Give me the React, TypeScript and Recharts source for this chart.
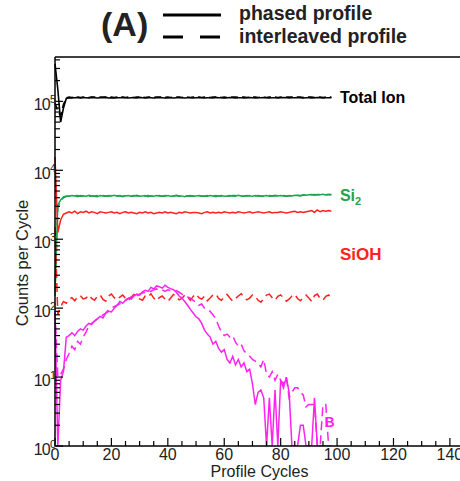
import { LineChart, Line, XAxis, YAxis, ReferenceLine, ReferenceDot } from "recharts";

// counts per cycle, one value per profile cycle (0..98); zero counts drawn at 1
const totalSolid = [
	350000, 150000, 50000, 80000, 110000, 113000, 112000, 113000, 114000, 112000,
	113000, 113000, 112000, 114000, 113000, 112000, 113000, 113000, 114000, 112000,
	113000, 112000, 113000, 113000, 114000, 113000, 112000, 113000, 113000, 112000,
	114000, 113000, 112000, 113000, 113000, 112000, 113000, 114000, 113000, 112000,
	113000, 113000, 112000, 113000, 114000, 113000, 112000, 113000, 113000, 112000,
	113000, 114000, 113000, 112000, 113000, 113000, 112000, 114000, 113000, 113000,
	112000, 113000, 114000, 113000, 112000, 113000, 113000, 112000, 113000, 114000,
	113000, 112000, 113000, 113000, 114000, 113000, 112000, 113000, 113000, 112000,
	113000, 114000, 113000, 112000, 113000, 113000, 114000, 113000, 112000, 113000,
	113000, 112000, 113000, 114000, 113000, 112000, 113000, 113000, 113000,
];
const totalDashed = [
	95000, 72000, 62000, 90000, 112000, 115000, 114000, 115000, 115000, 114000,
	115000, 115000, 114000, 115000, 115000, 114000, 115000, 115000, 115000, 114000,
	115000, 114000, 115000, 115000, 115000, 114000, 115000, 115000, 114000, 115000,
	115000, 115000, 114000, 115000, 115000, 114000, 115000, 115000, 115000, 114000,
	115000, 114000, 115000, 115000, 115000, 114000, 115000, 115000, 114000, 115000,
	115000, 115000, 114000, 115000, 115000, 114000, 115000, 115000, 115000, 114000,
	115000, 114000, 115000, 115000, 115000, 114000, 115000, 115000, 114000, 115000,
	115000, 115000, 114000, 115000, 115000, 114000, 115000, 115000, 115000, 114000,
	115000, 114000, 115000, 115000, 115000, 114000, 115000, 115000, 114000, 115000,
	115000, 115000, 114000, 115000, 115000, 114000, 115000, 115000, 115000,
];
const si2Solid = [
	180, 3150, 3700, 4100, 4250, 4200, 4300, 4250, 4150, 4300,
	4250, 4200, 4350, 4250, 4200, 4150, 4300, 4250, 4200, 4300,
	4250, 4350, 4200, 4250, 4150, 4250, 4300, 4200, 4250, 4350,
	4200, 4250, 4300, 4150, 4250, 4200, 4300, 4250, 4200, 4250,
	4300, 4200, 4250, 4350, 4200, 4250, 4150, 4250, 4300, 4200,
	4250, 4300, 4200, 4250, 4200, 4300, 4250, 4150, 4250, 4300,
	4200, 4250, 4300, 4250, 4200, 4350, 4250, 4200, 4300, 4250,
	4200, 4300, 4250, 4200, 4250, 4300, 4200, 4250, 4350, 4250,
	4300, 4250, 4200, 4300, 4250, 4350, 4300, 4250, 4400, 4350,
	4400, 4450, 4350, 4450, 4400, 4500, 4400, 4450, 4400,
];
const si2Dashed = [
	150, 2900, 3600, 4000, 4150, 4250, 4200, 4250, 4300, 4200,
	4250, 4300, 4200, 4250, 4250, 4300, 4200, 4300, 4250, 4200,
	4300, 4250, 4250, 4300, 4200, 4300, 4250, 4200, 4300, 4250,
	4250, 4200, 4250, 4300, 4200, 4250, 4250, 4300, 4200, 4300,
	4250, 4250, 4200, 4300, 4250, 4200, 4300, 4250, 4200, 4250,
	4300, 4250, 4250, 4200, 4300, 4250, 4200, 4300, 4250, 4250,
	4250, 4200, 4250, 4300, 4300, 4250, 4200, 4250, 4250, 4300,
	4250, 4250, 4300, 4250, 4200, 4250, 4300, 4250, 4250, 4300,
	4250, 4300, 4250, 4250, 4300, 4300, 4350, 4300, 4350, 4400,
	4400, 4400, 4450, 4400, 4450, 4450, 4400, 4450, 4450,
];
const siohSolid = [
	15600, 1250, 1900, 2300, 2400, 2500, 2400, 2550, 2350, 2500,
	2450, 2550, 2400, 2500, 2450, 2350, 2500, 2450, 2400, 2450,
	2500, 2400, 2450, 2350, 2450, 2500, 2400, 2450, 2400, 2350,
	2450, 2400, 2500, 2400, 2450, 2350, 2400, 2450, 2400, 2500,
	2400, 2450, 2400, 2350, 2450, 2400, 2500, 2450, 2400, 2450,
	2450, 2400, 2350, 2450, 2500, 2400, 2450, 2400, 2450, 2400,
	2500, 2450, 2400, 2450, 2400, 2500, 2450, 2400, 2450, 2500,
	2400, 2450, 2500, 2450, 2400, 2450, 2500, 2400, 2450, 2450,
	2500, 2450, 2400, 2450, 2500, 2550, 2450, 2500, 2450, 2500,
	2550, 2600, 2450, 2650, 2500, 2600, 2550, 2600, 2550,
];
const siohDashed = [
	1500, 80, 105, 125, 118, 135, 142, 128, 146, 152,
	136, 140, 155, 138, 130, 148, 156, 134, 126, 150,
	160, 142, 132, 145, 155, 138, 128, 144, 158, 150,
	136, 130, 150, 145, 162, 140, 128, 142, 150, 135,
	125, 140, 158, 150, 132, 138, 155, 145, 130, 148,
	160, 142, 135, 150, 128, 140, 155, 160, 138, 130,
	145, 158, 140, 126, 138, 150, 162, 145, 132, 140,
	155, 148, 130, 122, 138, 155, 160, 142, 130, 148,
	156, 140, 126, 135, 150, 158, 138, 128, 142, 155,
	140, 125, 152, 160, 138, 130, 148, 155, 140,
];
const bSolid = [
	85, 1, 9, 12, 38, 40, 44, 40, 46, 50,
	48, 55, 60, 58, 65, 70, 76, 72, 85, 90,
	88, 100, 110, 125, 118, 130, 140, 135, 150, 160,
	155, 172, 182, 175, 200, 190, 210, 205, 195, 215,
	200, 192, 185, 170, 150, 140, 125, 110, 96, 85,
	75, 70, 60, 48, 42, 38, 30, 33, 26, 23,
	25, 18, 16, 20, 15, 18, 14, 16, 12, 13,
	8, 4, 6, 6.5, 5, 1, 5, 1, 6.5, 1,
	9, 7, 10, 6, 1, 1, 1, 2, 2, 1,
	1, 1, 5, 1, 1, 1, 1, 1, 1,
];
const bDashed = [
	90, 10, 11, 13, 18, 22, 28, 25, 33, 30,
	38, 45, 55, 60, 65, 70, 72, 80, 85, 95,
	100, 105, 110, 115, 125, 130, 138, 145, 140, 150,
	160, 165, 170, 180, 175, 185, 190, 180, 185, 175,
	185, 180, 175, 180, 170, 160, 150, 145, 140, 130,
	120, 110, 115, 100, 95, 90, 80, 70, 55, 45,
	40, 42, 38, 40, 32, 28, 30, 24, 22, 20,
	18, 17, 16, 14, 18, 11, 10, 12, 9, 11,
	9, 8, 10, 5, 6, 7, 7, 6, 5.5, 3.7,
	4, 4, 4, 1, 1, 4, 4, 1, 1,
];

const xTicks = [0, 5, 10, 15, 20, 25, 30, 35, 40, 45, 50, 55, 60, 65, 70, 75, 80, 85, 90, 95, 100, 105, 110, 115, 120, 125, 130, 135, 140];
const yDecades = [1, 10, 100, 1000, 10000, 100000];
const yMantissas = [1, 2, 3, 4, 5, 6, 7, 8, 9];
const yTicks = yDecades.flatMap((d) => yMantissas.map((m) => m * d)).filter((v) => v <= 440000);

const data = totalSolid.map((v, i) => ({
	cycle: i,
	totalSolid: v,
	totalDashed: totalDashed[i],
	si2Solid: si2Solid[i],
	si2Dashed: si2Dashed[i],
	siohSolid: siohSolid[i],
	siohDashed: siohDashed[i],
	bSolid: bSolid[i],
	bDashed: bDashed[i],
}));

const FONT = "'Liberation Sans', Arial, sans-serif";
const GREEN = "#1fa34e";
const RED = "#ff2020";
const MAGENTA = "#ff22f0";

function XTick(props: any) {
	const { x, y, payload } = props;
	const major = payload.value % 20 === 0;
	return (
		<g>
			<line x1={x} x2={x} y1={y} y2={y - (major ? 8 : 5)} stroke="#000" strokeWidth={1.2} />
			{major && (
				<text x={x} y={y + 14} textAnchor="middle" fontSize={16} fontFamily={FONT} fill="#222">
					{payload.value}
				</text>
			)}
		</g>
	);
}

function YTick(props: any) {
	const { x, y, payload } = props;
	const lg = Math.log10(payload.value);
	const exp = Math.round(lg);
	const major = Math.abs(lg - exp) < 1e-6;
	return (
		<g>
			<line x1={x} x2={x + (major ? 8 : 5)} y1={y} y2={y} stroke="#000" strokeWidth={1.2} />
			{major && (
				<text x={x + 1} y={y + 9} textAnchor="end" fontSize={16} fontFamily={FONT} fill="#222" letterSpacing={-0.8}>
					10
					<tspan dy={-7} fontSize={11} letterSpacing={0}>
						{exp}
					</tspan>
				</text>
			)}
		</g>
	);
}

function seriesLabel(text: any, color: string, size: number, bold = true) {
	return (p: any) => {
		const vb = p.viewBox;
		return (
			<text
				x={vb.x + vb.width / 2}
				y={vb.y + vb.height / 2 + size * 0.36}
				fontSize={size}
				fontWeight={bold ? "bold" : "normal"}
				fontFamily={FONT}
				fill={color}
			>
				{text}
			</text>
		);
	};
}

export default function App() {
	return (
		<div style={{ position: "absolute", left: 0, top: 0, width: 460, height: 481, overflow: "hidden", background: "#fff", fontFamily: FONT }}>
			<svg width={460} height={56} style={{ position: "absolute", left: 0, top: 0 }}>
				<text x={101} y={36} fontSize={34} fontWeight="bold" fontFamily={FONT} fill="#222">
					(A)
				</text>
				<line x1={163} x2={221} y1={15} y2={15} stroke="#000" strokeWidth={3} />
				<line x1={163} x2={221} y1={37} y2={37} stroke="#000" strokeWidth={3} strokeDasharray="20 17" />
				<text x={239} y={20} fontSize={19.5} fontWeight="bold" fontFamily={FONT} fill="#222">
					phased profile
				</text>
				<text x={239} y={43} fontSize={19.5} fontWeight="bold" fontFamily={FONT} fill="#222">
					interleaved profile
				</text>
			</svg>
			<div style={{ position: "absolute", left: 0, top: 0 }}>
				<LineChart width={480} height={481} data={data} margin={{ top: 57, left: 54, right: 16, bottom: 34 }}>
					<XAxis
						dataKey="cycle"
						type="number"
						domain={[0, 145]}
						ticks={xTicks}
						interval={0}
						height={1}
						tickSize={0}
						tickMargin={0}
						tickLine={false}
						axisLine={{ stroke: "#000", strokeWidth: 1.5 }}
						tick={(p: any) => <XTick {...p} />}
						label={{
							content: (p: any) => (
								<text x={p.viewBox.x + p.viewBox.width / 2} y={p.viewBox.y + 31} textAnchor="middle" fontSize={16} fontFamily={FONT} fill="#222">
									Profile Cycles
								</text>
							),
						}}
					/>
					<YAxis
						type="number"
						scale="log"
						domain={[1, 440000]}
						allowDataOverflow
						ticks={yTicks}
						interval={0}
						width={1}
						tickSize={0}
						tickMargin={0}
						tickLine={false}
						axisLine={{ stroke: "#000", strokeWidth: 1.5 }}
						tick={(p: any) => <YTick {...p} />}
						label={{
							content: (p: any) => {
								const cx = p.viewBox.x + p.viewBox.width - 27.5;
								const cy = p.viewBox.y + p.viewBox.height / 2 + 11.5;
								return (
									<text x={cx} y={cy} transform={`rotate(-90 ${cx} ${cy})`} textAnchor="middle" fontSize={16.5} fontFamily={FONT} fill="#222">
										Counts per Cycle
									</text>
								);
							},
						}}
					/>
					<ReferenceLine y={440000} stroke="#000" strokeWidth={1.5} />

					<Line dataKey="totalSolid" stroke="#000" strokeWidth={1.6} dot={false} isAnimationActive={false} />
					<Line dataKey="totalDashed" stroke="#000" strokeWidth={1.6} strokeDasharray="7 4" dot={false} isAnimationActive={false} />
					<Line dataKey="si2Solid" stroke={GREEN} strokeWidth={1.5} dot={false} isAnimationActive={false} />
					<Line dataKey="si2Dashed" stroke={GREEN} strokeWidth={1.5} strokeDasharray="9 5" dot={false} isAnimationActive={false} />
					<Line dataKey="siohSolid" stroke={RED} strokeWidth={1.5} dot={false} isAnimationActive={false} />
					<Line dataKey="siohDashed" stroke={RED} strokeWidth={1.5} strokeDasharray="9 5" dot={false} isAnimationActive={false} />
					<Line dataKey="bSolid" stroke={MAGENTA} strokeWidth={1.5} dot={false} isAnimationActive={false} />
					<Line dataKey="bDashed" stroke={MAGENTA} strokeWidth={1.5} strokeDasharray="9 5" dot={false} isAnimationActive={false} />

					<ReferenceDot x={101} y={115000} r={0} fill="none" stroke="none" label={{ content: seriesLabel("Total Ion", "#000", 16) }} />
					<ReferenceDot
						x={101}
						y={4300}
						r={0}
						fill="none"
						stroke="none"
						label={{
							content: seriesLabel(
								<>
									Si
									<tspan dy={4} fontSize={11}>
										2
									</tspan>
								</>,
								GREEN,
								16,
							),
						}}
					/>
					<ReferenceDot x={101} y={620} r={0} fill="none" stroke="none" label={{ content: seriesLabel("SiOH", RED, 17) }} />
					<ReferenceDot x={95.5} y={2.2} r={0} fill="none" stroke="none" label={{ content: seriesLabel("B", MAGENTA, 14) }} />
				</LineChart>
			</div>
		</div>
	);
}
